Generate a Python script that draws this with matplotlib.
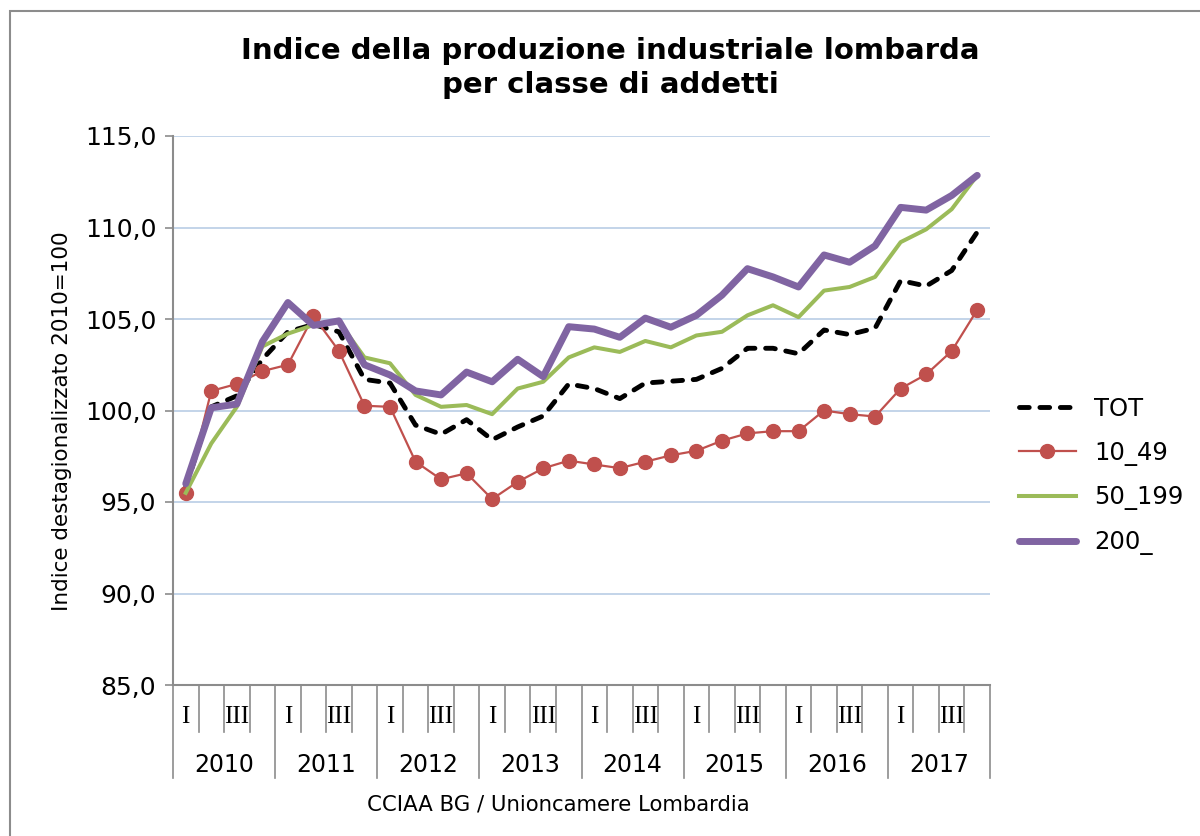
import matplotlib
matplotlib.use("Agg")
import matplotlib.pyplot as plt
from matplotlib.lines import Line2D
from matplotlib.patches import Rectangle
import matplotlib.transforms as mtransforms

years = ["2010", "2011", "2012", "2013", "2014", "2015", "2016", "2017"]
quarters = ["I", "", "III", ""]

tot = [95.8, 100.2, 100.8, 102.8, 104.3, 104.7, 104.3, 101.7, 101.5, 99.2, 98.7, 99.5,
       98.4, 99.1, 99.7, 101.45, 101.2, 100.65, 101.5, 101.6, 101.7, 102.3, 103.4, 103.4,
       103.1, 104.4, 104.15, 104.5, 107.1, 106.8, 107.65, 109.75]
s10_49 = [95.48, 101.07, 101.45, 102.15, 102.5, 105.16, 103.25, 100.26, 100.2, 97.2, 96.24, 96.57,
          95.16, 96.1, 96.84, 97.26, 97.05, 96.85, 97.2, 97.55, 97.8, 98.35, 98.75, 98.87,
          98.87, 100.0, 99.8, 99.67, 101.2, 101.97, 103.25, 105.5]
s50_199 = [95.5, 98.2, 100.2, 103.5, 104.2, 104.67, 104.85, 102.9, 102.58, 100.85, 100.2, 100.3,
           99.8, 101.2, 101.57, 102.9, 103.45, 103.2, 103.8, 103.45, 104.1, 104.3, 105.2, 105.75,
           105.1, 106.55, 106.75, 107.3, 109.2, 109.9, 111.0, 112.85]
s200 = [96.0, 100.15, 100.35, 103.76, 105.9, 104.65, 104.9, 102.5, 101.94, 101.07, 100.85, 102.1,
        101.57, 102.8, 101.85, 104.58, 104.45, 104.0, 105.05, 104.55, 105.2, 106.3, 107.75, 107.3,
        106.75, 108.5, 108.1, 109.0, 111.1, 110.95, 111.75, 112.85]

yticks = [85, 90, 95, 100, 105, 110, 115]

W, H = 1200, 836
fig = plt.figure(figsize=(W / 100, H / 100), dpi=100)
ax = fig.add_axes([173 / W, 1 - 685 / H, (990 - 173) / W, (685 - 136) / H])

n = len(tot)
x = list(range(n))
grid_c = "#B9CDE5"
axis_c = "#8C8C8C"

ax.plot(x, tot, color="black", lw=3.5, ls=(0, (2.0, 2.2)), dash_capstyle="round",
        label="TOT", zorder=3)
ax.plot(x, s10_49, color="#C0504D", lw=1.6, marker="o", ms=10, label="10_49", zorder=4)
ax.plot(x, s50_199, color="#9BBB59", lw=2.9, label="50_199", zorder=5)
ax.plot(x, s200, color="#8064A2", lw=5.0, label="200_", zorder=6, solid_capstyle="round")

ax.set_xlim(-0.5, n - 0.5)
ax.set_ylim(85, 115)
ax.set_yticks(yticks)
ax.set_yticklabels([f"{v:.1f}".replace(".", ",") for v in yticks], fontsize=18,
                   family="DejaVu Sans")
ax.tick_params(axis="y", length=6, width=1.2, color=axis_c, pad=6)
ax.set_xticks([])
for v in yticks[1:]:
    ax.axhline(v, color=grid_c, lw=1.2, zorder=1)
for side in ["top", "right"]:
    ax.spines[side].set_visible(False)
for side in ["left", "bottom"]:
    ax.spines[side].set_color(axis_c)
    ax.spines[side].set_linewidth(1.5)

# category axis decorations
trans = mtransforms.blended_transform_factory(ax.transData, ax.transAxes)
px = 1 / (685 - 136)
q_len = (732 - 685) * px
y_len = (778 - 685) * px
for i in range(n + 1):
    b = i - 0.5
    length = y_len if i % 4 == 0 else q_len
    ax.add_line(Line2D([b, b], [0, -length], transform=trans, color=axis_c, lw=1.2,
                       clip_on=False))
for i in range(n):
    lab = quarters[i % 4]
    if lab:
        ax.text(i, -(717 - 685) * px, lab, transform=trans, ha="center", va="center",
                fontsize=18, family="Liberation Serif")
for k, yr in enumerate(years):
    ax.text(4 * k + 1.5, -(765 - 685) * px, yr, transform=trans, ha="center", va="center",
            fontsize=17)

fig.text(558 / W, 1 - 805 / H, "CCIAA BG / Unioncamere Lombardia", ha="center", va="center",
         fontsize=15.3)
fig.text(62 / W, 1 - 421 / H, "Indice destagionalizzato 2010=100", rotation=90,
         ha="center", va="center", fontsize=15.5)
fig.text(610 / W, 1 - 68 / H, "Indice della produzione industriale lombarda\nper classe di addetti",
         ha="center", va="center", fontsize=21, fontweight="bold", linespacing=1.28)

leg = fig.legend(loc="center left", bbox_to_anchor=(997 / W, 1 - 476 / H), frameon=False,
                 fontsize=17.5, handlelength=2.35, handletextpad=0.75, labelspacing=0.82)

fig.patches.append(Rectangle((10 / W, -0.1), 1.2, 1 - 11 / H + 0.1, transform=fig.transFigure,
                             fill=False, edgecolor=axis_c, lw=1.5))

fig.savefig("out.png", dpi=100)
